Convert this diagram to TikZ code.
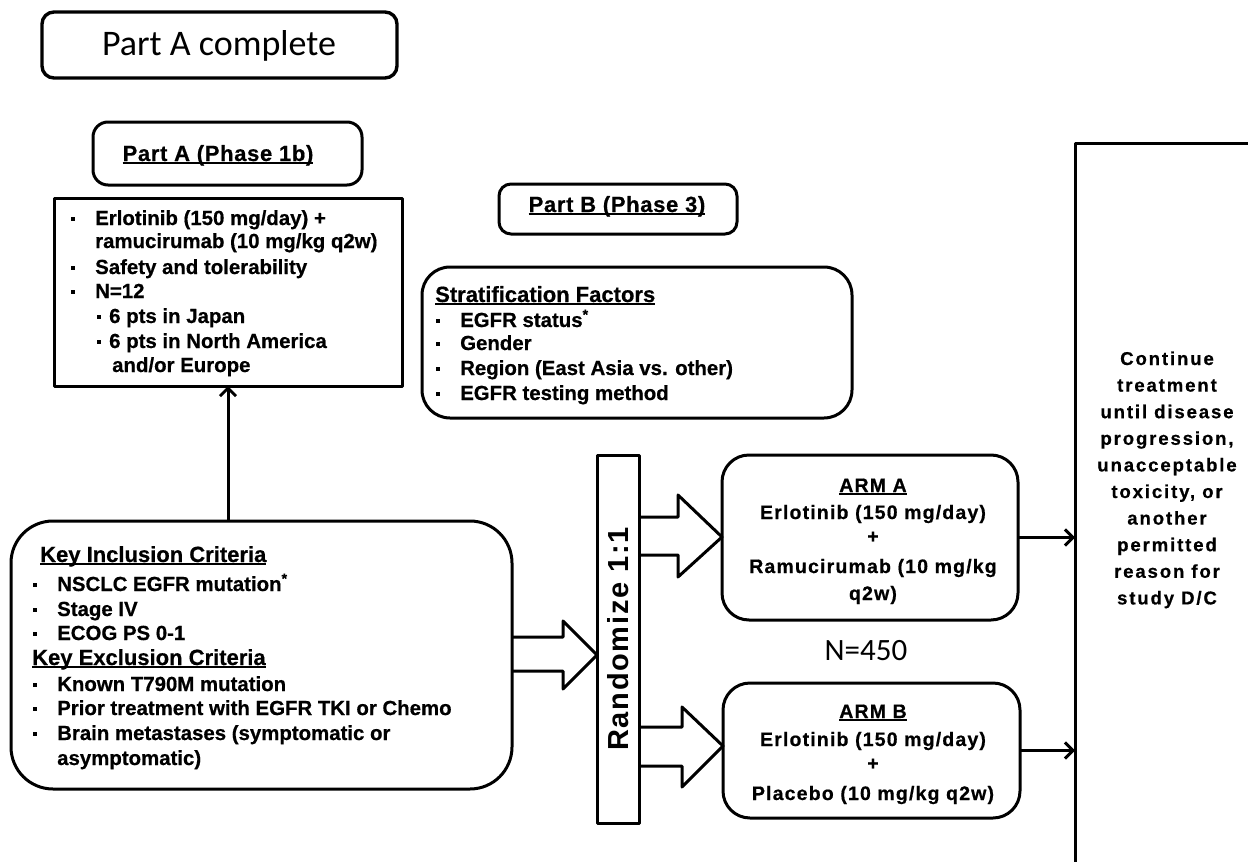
\documentclass[tikz,border=0pt]{standalone}
\usepackage{fontspec}
\setmainfont{Liberation Sans}
\newfontfamily\calfont{Carlito}
\usetikzlibrary{arrows.meta}
\newcommand\ulx[1]{\setbox0\hbox{#1}\rlap{\rule[-3pt]{\wd0}{1.6pt}}\box0}
\newcommand\sqb{\makebox[24pt][l]{\rule[4.5pt]{4pt}{4pt}}}
\newcommand\sqs{\makebox[12pt][l]{\rule[4.5pt]{4pt}{4pt}}}
\begin{document}
\begin{tikzpicture}[x=1pt,y=-1pt,line join=round,
  box/.style={draw, line width=3pt, rounded corners=#1, inner sep=0pt, outer sep=0pt, anchor=north west},
  box/.default=12pt,
  sbox/.style={draw, line width=3pt, inner sep=0pt, outer sep=0pt, anchor=north west},
  txt/.style={anchor=base west, inner sep=0pt, font=\bfseries\fontsize{20.4}{24}\selectfont\addfontfeatures{FakeBold=0.6}},
  hd/.style={anchor=base west, inner sep=0pt, font=\bfseries\fontsize{22}{26}\selectfont\addfontfeatures{FakeBold=0.6}},
  ttl/.style={anchor=base, inner sep=0pt, font=\bfseries\fontsize{22}{26}\selectfont\addfontfeatures{LetterSpace=3,FakeBold=0.6}},
  armt/.style={anchor=base, inner sep=0pt, font=\bfseries\fontsize{19.5}{24}\selectfont\addfontfeatures{LetterSpace=6,FakeBold=0.6}},
  rt/.style={anchor=base, inner sep=0pt, font=\bfseries\fontsize{18.6}{24}\selectfont\addfontfeatures{LetterSpace=10,FakeBold=0.6}},
  conn/.style={line width=3pt, -{Straight Barb[length=8pt,width=16pt,line width=3pt]}},
  blk/.style={draw, line width=3pt}
]
\useasboundingbox (0,0) rectangle (1248,862);
\fill[white] (0,0) rectangle (1248,862);

% boxes
\node[box=12pt, line width=3.4pt, minimum width=355pt, minimum height=66pt] (done) at (42,12) {};
\node[box=15pt, minimum width=269pt, minimum height=63pt] (pa) at (93,122) {};
\node[sbox, minimum width=348pt, minimum height=188pt] (pad) at (54,198) {};
\node[box=12pt, minimum width=238pt, minimum height=50pt] (pb) at (499,184) {};
\node[box=28pt, minimum width=430pt, minimum height=151pt] (strat) at (422,267) {};
\node[box=42pt, minimum width=501pt, minimum height=268pt] (key) at (11,521) {};
\node[sbox, minimum width=42pt, minimum height=368pt] (rand) at (597,455) {};
\node[box=27pt, minimum width=296pt, minimum height=165pt] (armA) at (722,455) {};
\node[box=27pt, minimum width=297pt, minimum height=135pt] (armB) at (723,683) {};
\node[sbox, minimum width=250pt, minimum height=800pt] (rbox) at (1075,143) {};

% titles
\node[anchor=base, inner sep=0pt, font=\calfont\fontsize{36}{40}\selectfont] (tdone) at (219,55) {Part A complete};
\node[ttl] (tpa) at (218,161) {\ulx{Part A (Phase 1b)}};
\node[ttl] (tpb) at (617,212) {\ulx{Part B (Phase 3)}};

% Part A details
\node[txt] (a1) at (71,225) {\sqb Erlotinib (150 mg/day) +};
\node[txt] (a2) at (95,248) {ramucirumab (10 mg/kg q2w)};
\node[txt] (a3) at (71,274) {\sqb Safety and tolerability};
\node[txt] (a4) at (71,298) {\sqb N=12};
\node[txt] (a5) at (97,323) {\sqs 6 pts in Japan};
\node[txt] (a6) at (97,348) {\sqs 6 pts in North America};
\node[txt] (a7) at (112,372) {and/or Europe};

% Stratification
\node[hd] (s0) at (435,302) {\ulx{Stratification Factors}};
\node[txt] (s1) at (436,327) {\sqb EGFR status\textsuperscript{*}};
\node[txt] (s2) at (436,350) {\sqb Gender};
\node[txt] (s3) at (436,375) {\sqb Region (East Asia vs. other)};
\node[txt] (s4) at (436,400) {\sqb EGFR testing method};

% Key criteria
\node[hd] (k0) at (40,562) {\ulx{Key Inclusion Criteria}};
\node[txt] (k1) at (33,591) {\sqb NSCLC EGFR mutation\textsuperscript{*}};
\node[txt] (k2) at (33,616) {\sqb Stage IV};
\node[txt] (k3) at (33,640) {\sqb ECOG PS 0-1};
\node[hd] (k4) at (32,665) {\ulx{Key Exclusion Criteria}};
\node[txt] (k5) at (33,691) {\sqb Known T790M mutation};
\node[txt] (k6) at (33,715) {\sqb Prior treatment with EGFR TKI or Chemo};
\node[txt] (k7) at (33,740) {\sqb Brain metastases (symptomatic or};
\node[txt] (k8) at (57,765) {asymptomatic)};

% Randomize
\node[rotate=90, inner sep=0pt, font=\bfseries\fontsize{29}{31}\selectfont\addfontfeatures{LetterSpace=6}] (trand) at (rand.center) {Randomize 1:1};

% Arm A
\node[armt] (aa0) at (873,492) {\ulx{ARM A}};
\node[armt] (aa1) at (873,519) {Erlotinib (150 mg/day)};
\node[armt] (aa2) at (873,543) {+};
\node[armt] (aa3) at (873,573) {Ramucirumab (10 mg/kg};
\node[armt] (aa4) at (873,600) {q2w)};
% N
\node[anchor=base, inner sep=0pt, font=\calfont\fontsize{31}{34}\selectfont] (nn) at (866,660) {N=450};
% Arm B
\node[armt] (ab0) at (873,718) {\ulx{ARM B}};
\node[armt] (ab1) at (873,746) {Erlotinib (150 mg/day)};
\node[armt] (ab2) at (873,770) {+};
\node[armt] (ab3) at (873,800) {Placebo (10 mg/kg q2w)};

% right text
\foreach \t [count=\i] in {Continue,treatment,until disease,{progression,},unacceptable,{toxicity, or},another,permitted,reason for,study D/C}{
  \node[rt] (r\i) at (1167,{365+26.6*(\i-1)}) {\t};
}

% connectors
\draw[conn] (pad.south |- key.north) -- (pad.south);
\draw[conn] (armA.east) -- (armA.east -| rbox.west);
\draw[conn] (armB.east) -- (armB.east -| rbox.west);

% block arrows
\draw[blk] (key.east |- 0,637) -- (563,637) -- (563,621) -- (rand.west |- 0,655) -- (563,689) -- (563,671) -- (key.east |- 0,671);
\draw[blk] (rand.east |- 0,517) -- (678,517) -- (678,495) -- (armA.west |- 0,537) -- (678,577) -- (678,555) -- (rand.east |- 0,555);
\draw[blk] (rand.east |- 0,727) -- (682,727) -- (682,707) -- (armB.west |- 0,746) -- (682,787) -- (682,766) -- (rand.east |- 0,766);
\end{tikzpicture}
\end{document}
